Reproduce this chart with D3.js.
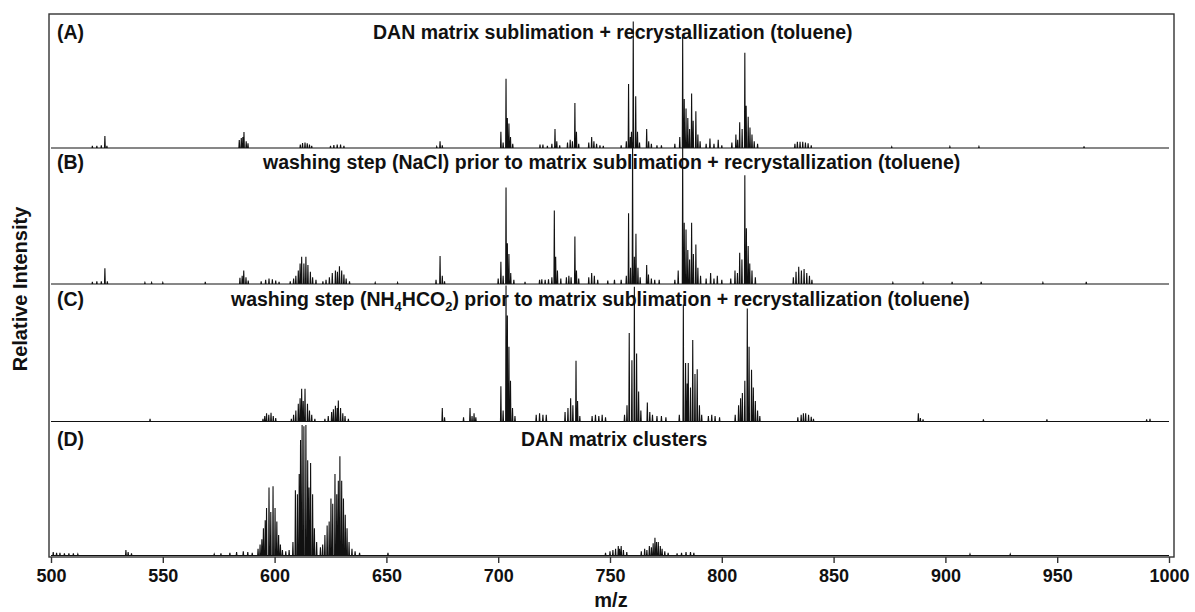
<!DOCTYPE html>
<html lang="en">
<head>
<meta charset="UTF-8">
<script src="https://cdn.jsdelivr.net/npm/d3@7/dist/d3.min.js"></script>
<title>DAN matrix spectra</title>
<style>
  body { margin: 0; background: #fff; }
  text { font-family: "Liberation Sans", Arial, sans-serif; font-weight: bold; fill: #111; }
</style>
</head>
<body>
<script>

// panel labels and titles (segments: [text, "sub" or ""])
var panelLabels = ["(A)", "(B)", "(C)", "(D)"];
var titleA = [["DAN matrix sublimation + recrystallization (toluene)", ""]];
var titleB = [["washing step (NaCl) prior to matrix sublimation + recrystallization (toluene)", ""]];
var titleC = [["washing step (NH", ""], ["4", "sub"], ["HCO", ""], ["2", "sub"],
              [") prior to matrix sublimation + recrystallization (toluene)", ""]];
var titleD = [["DAN matrix clusters", ""]];

var xTicks = [500, 550, 600, 650, 700, 750, 800, 850, 900, 950, 1000];

// peaks: [m/z, relative intensity %]
var peaksA = [
  [518.5,1.5],[520.5,1.5],[522.5,2],[524.1,8.8],[525,1.5],
  [584.2,5.9],[585.1,7.4],[585.8,8],[586.3,11.8],[587.3,4.9],[588.1,3.5],
  [611.5,2.5],[612.5,3.7],[613.6,4],[614.6,3.5],[615.6,2.5],[616.6,1.5],
  [625,1.5],[626.5,2.2],[628,2.5],[629.5,2.5],[631,1.5],
  [672.5,1],[674,5],[675,2],
  [701.2,12],[702.2,4],[703.5,51],[704.1,22],[704.8,18],[705.5,8],[706.5,3],
  [718.7,2.5],[720,2.5],[722,1.5],
  [724,3],[725.4,14],[726.2,5],[727.5,2],
  [731,4],[732.2,6],[733.2,5],[734.3,33],[735,12],[736,3],
  [740.5,4],[741.8,8],[742.8,5],[744,3],[745.5,2],[747,1.5],
  [755,2],[757.3,5],[758.3,47],[759.1,8],[759.6,12],[760.4,93],[761.5,38],[762.3,12],[763.2,4],
  [766.4,14],[767.3,5],[768.5,3],[771,2],[773,2],
  [779,3],[781.2,8],[782.5,82],[783.2,36],[784,29],[784.8,22],[785.6,14],[786.5,40],[787.2,20],[788.4,27],[789.3,10],[790.3,5],
  [793,3],[794.7,7],[796.5,3],[798.4,6],[800,2],
  [804.5,4],[806.3,10],[807.1,6],[808,19],[809.1,14],[810.3,70],[810.9,31],[811.8,23],[812.6,15],[813.5,10],[814.5,5],[816,3],
  [832.7,3],[833.8,4.5],[835,4.5],[836.2,4.5],[837.4,4],[838.6,3.5],[840,2],
  [876,0.8],[902,1],[915,1],[962,1.2]
];

var peaksB = [
  [518.5,1.5],[520.5,2],[522.5,2],[524.1,11.5],[525.2,2],
  [542,1],[545,1],[550,1],[569,1.5],
  [584.5,4.5],[585.5,6],[586.2,10],[587.2,5],[588.2,2.5],
  [594,2],[596,3],[597.5,4],[599,3.5],[600.5,2.5],[602,1.5],
  [607,2],[608.5,4],[609.5,6],[610.6,10],[611.4,15],[612.1,20],[613.1,15],[614,20],[614.9,14],[616,9],[617,5],[618.5,3],
  [621.6,2],[623,3],[624.5,5],[625.8,8],[627.2,10],[628.1,9],[629,13],[630,10],[631,7],[632,4],[633.5,2],
  [645,1],[655,1],
  [672.2,3],[674,20.6],[675,6],[676,2],
  [700,4],[701.2,16.4],[702.2,6],[703.5,71],[704.1,30],[704.8,22],[705.6,8],[707,3],
  [712,1.5],[718.5,3],[719.5,3.5],[721,3],[722.5,3.5],
  [724,5],[725.1,54],[725.7,20],[726.5,10],[728,4],
  [730.5,5],[731.6,6],[732.6,5],[734.3,35],[735,10],[736,4],
  [740.5,5],[741.8,8],[743,6],[744.5,3],
  [749,2.5],[752,3],[755,3],
  [757.3,6],[758.3,52],[759.2,12],[760.1,104],[760.9,20],[761.6,37],[762.5,12],[763.5,5],
  [766.4,14],[767.2,7],[768.5,4],[770,3],[772,3],
  [779,3],[780.5,10],[782.5,100],[783.2,45],[784,40],[784.8,25],[785.6,18],[786.5,45],[787.3,22],[788.4,29],[789.3,12],[790.5,6],
  [793,4],[795,8],[796.5,4],[798,6],[800,3],
  [804,4],[805.9,10],[807,8],[808,23],[809,18],[810.3,80],[811,41],[811.8,28],[812.5,15],[813.5,10],[815,5],
  [832,5],[833.2,9],[834.4,12.7],[835.6,10],[836.8,11],[838,8],[839.2,6],[840.3,3],
  [876.5,1],[890,1],[903,1.5],[916,1.5],[943.6,1],[963,1.5]
];

var peaksC = [
  [544.3,2],
  [594.8,2],[595.6,4],[596.4,6],[597.4,5],[598.4,6.5],[599.4,4],[600.5,2.5],
  [607.5,2],[608.5,5],[609.5,8],[610.6,13],[611.4,17],[612.1,24],[612.8,15],[613.6,24],[614.7,13],[615.6,8],[616.6,5],[618,2],
  [622.5,2],[624,4],[625.5,7],[626.3,9],[627.2,11.5],[628,10],[628.5,15.5],[629.5,10],[630.5,6],[631.5,4],[633,2],
  [675,10],[676,3],
  [684.5,3],[687.4,10],[688.3,4],[689.2,6],[690,3],
  [701.2,26],[702.2,8],[703.5,100],[704.1,78],[704.8,55],[705.5,30],[706.4,10],[707.5,4],
  [717,5],[718.5,6],[720,5],[721.5,5],
  [729.9,7],[731.2,10],[732.4,17],[733.4,12],[734.8,44.6],[735.5,15],[736.5,4],
  [742,4],[743.5,5],[745,4],[746.5,5],[748,3],
  [756.5,5],[757.6,12],[758.6,65],[759.8,45],[760.9,99],[761.9,50],[762.8,22],[763.8,8],
  [766.7,14],[767.8,7],[769,5],[771,4],[773,4],[775,3],
  [781,5],[782.8,86],[783.8,43],[784.5,28],[785,43],[786,25],[787,60],[788,35],[789,38.5],[790,12],[791,5],
  [794,4],[795.5,5],[797,4],[799,3],
  [806,5],[807.5,12],[808.4,17],[809.2,21],[810.3,30],[811.4,83],[812.2,55],[813.3,38],[814.1,25],[815,15],[816,8],[817,4],
  [834,3],[835.5,5],[836.5,6],[837.5,6],[838.8,5],[840,3.5],[841,2],
  [887.9,6],[888.8,2.5],[890,1.5],
  [917,1.5],[945.4,1.5],[990,1.5],[991.5,2]
];

var peaksD = [
  [501,2.5],[502.5,2],[504,2],[506,1.5],[508,1.5],[510,1.5],[512,1],
  [533.5,4],[534.5,2.5],[536,1.5],
  [573,1],[576,1.5],[580,2],[583,2.5],[586,3],[588,2.5],[590,2],
  [592.6,5],[593.5,8],[594.3,12],[595,20],[595.8,26],[596.4,35],[597.5,50],[598.3,32],[599.3,51],[600.2,35],[601,25],[601.8,15],[602.6,8],[603.5,4],
  [605,3],[606.5,4],
  [608.2,10],[609.3,48],[610.2,45],[611,60],[611.6,85],[612.3,96],[613.1,95],[614,96],[614.8,70],[615.4,50],[616.1,68],[617,45],[617.8,20],[618.8,10],
  [620.5,6],[621.5,8],[622.5,15],[623.5,22],[624.4,25],[625.2,42],[626,38],[627,60],[627.8,45],[628.5,55],[629.2,73],[630,55],[630.8,42],[631.6,30],[632.4,20],[633.3,10],[634.6,5],[636,3],[638,2],
  [650.7,2],
  [748,2],[750,3],[751.3,4],[752.5,5],[753.7,7],[754.3,5],[755,7],[756,4],[757.5,2.5],
  [764,3],[765.5,5],[766.5,4],[767.6,7],[768.5,6],[769.3,9],[770.1,13],[770.8,10],[771.6,10],[772.5,7],[773.3,5],[774.5,3],[776,2],
  [780,1.5],[782,2],[784,2.5],[786,2.5],[787.5,2],
  [911,1],[929,1]
];

var titles = [titleA, titleB, titleC, titleD];
var spectra = [peaksA, peaksB, peaksC, peaksD];

// layout
var w = 1195, h = 612;
var frame = { left: 49, top: 14, right: 1174, bottom: 557 };
var baselines = [148, 284, 421.5, 555.5];
var panelH = 136;
var labelX = 57;
var titleX = [373, 263, 231, 521];
var textY = [39, 169, 305.5, 446];
var peakHalf = 0.18;

var svg = d3.select("body")
  .append("svg")
  .attr("width", w)
  .attr("height", h);

var x = d3.scaleLinear()
  .domain([500, 1000])
  .range([51, 1169]);

spectra.forEach(function (peaks, i) {
  var y = d3.scaleLinear()
    .domain([0, 100])
    .range([baselines[i], baselines[i] - panelH]);

  var pts = [[500, 0]];
  peaks.slice().sort(function (a, b) { return a[0] - b[0]; })
    .forEach(function (p) {
      pts.push([p[0] - peakHalf, 0], [p[0], p[1]], [p[0] + peakHalf, 0]);
    });
  pts.push([1000, 0]);

  var line = d3.line()
    .x(function (d) { return x(d[0]); })
    .y(function (d) { return y(d[1]); });

  svg.append("path")
    .attr("d", line(pts))
    .attr("fill", "none")
    .attr("stroke", "#111")
    .attr("stroke-width", 1.1);

  svg.append("text")
    .attr("x", labelX)
    .attr("y", textY[i])
    .attr("font-size", "19.5px")
    .text(panelLabels[i]);

  var t = svg.append("text")
    .attr("x", titleX[i])
    .attr("y", textY[i])
    .attr("font-size", "19.5px");
  var shifted = false;
  titles[i].forEach(function (seg) {
    var sp = t.append("tspan").text(seg[0]);
    if (seg[1] === "sub") {
      sp.attr("dy", 5).attr("font-size", "13px");
      shifted = true;
    } else if (shifted) {
      sp.attr("dy", -5);
      shifted = false;
    }
  });
});

// frame
svg.append("rect")
  .attr("x", frame.left)
  .attr("y", frame.top)
  .attr("width", frame.right - frame.left)
  .attr("height", frame.bottom - frame.top)
  .attr("fill", "none")
  .attr("stroke", "#333")
  .attr("stroke-width", 1.4);

// x axis
var xAxis = svg.append("g")
  .attr("transform", "translate(0," + frame.bottom + ")")
  .call(d3.axisBottom(x).tickValues(xTicks).tickFormat(d3.format("d"))
    .tickSize(6).tickPadding(6));
xAxis.select(".domain").remove();
xAxis.selectAll(".tick line").attr("stroke", "#333").attr("stroke-width", 1.4);
xAxis.selectAll(".tick text")
  .attr("font-size", "18px")
  .attr("font-family", "Liberation Sans, Arial, sans-serif")
  .attr("fill", "#111");

svg.append("text")
  .attr("x", 611)
  .attr("y", 607)
  .attr("text-anchor", "middle")
  .attr("font-size", "20px")
  .text("m/z");

svg.append("text")
  .attr("transform", "translate(27,289) rotate(-90)")
  .attr("text-anchor", "middle")
  .attr("font-size", "20px")
  .text("Relative Intensity");

</script>
</body>
</html>
